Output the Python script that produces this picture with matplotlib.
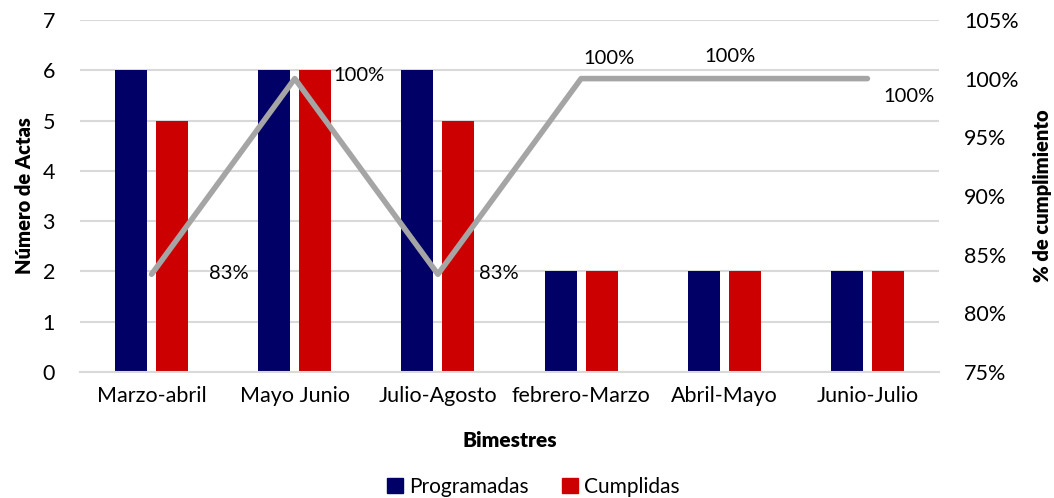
import matplotlib
matplotlib.use("Agg")
import matplotlib.pyplot as plt
import numpy as np
from matplotlib.ticker import FuncFormatter
from matplotlib.patches import Patch

plt.rcParams['font.family'] = ['Lato', 'DejaVu Sans']

categories = ["Marzo-abril", "Mayo Junio", "Julio-Agosto", "febrero-Marzo", "Abril-Mayo", "Junio-Julio"]
programadas = [6, 6, 6, 2, 2, 2]
cumplidas = [5, 6, 5, 2, 2, 2]
cumplimiento = [83.33, 100, 83.33, 100, 100, 100]
pct_labels = ["83%", "100%", "83%", "100%", "100%", "100%"]

navy = "#000066"
red = "#CC0000"
gray = "#A5A5A5"
grid = "#D9D9D9"

fig = plt.figure(figsize=(10.54, 4.98), dpi=100)
ax = fig.add_axes([0.0759, 0.253, 0.815, 0.707])
x = np.arange(len(categories))
w = 0.224
ax.bar(x - 0.143, programadas, w, color=navy, zorder=2)
ax.bar(x + 0.143, cumplidas, w, color=red, zorder=2)
ax.set_xlim(-0.5, len(categories) - 0.5)
ax.set_ylim(0, 7)
ax.set_yticks(range(0, 8))
ax.yaxis.grid(True, color=grid, linewidth=1.5, zorder=0)
ax.set_axisbelow(True)
for s in ["top", "left", "right"]:
    ax.spines[s].set_visible(False)
ax.spines["bottom"].set_color(grid)
ax.spines["bottom"].set_linewidth(1.5)
ax.tick_params(length=0, labelsize=15.5, colors="black")
ax.tick_params(axis="y", pad=18)
ax.tick_params(axis="x", pad=10)
ax.set_xticks(x)
ax.set_xticklabels(categories)
ax.set_ylabel("Número de Actas", fontsize=14.5, fontweight="heavy", labelpad=6)
ax.set_xlabel("Bimestres", fontsize=15, fontweight="heavy", labelpad=18)

ax2 = ax.twinx()
ax2.set_ylim(75, 105)
ax2.set_yticks(range(75, 106, 5))
ax2.yaxis.set_major_formatter(FuncFormatter(lambda v, p: f"{int(v)}%"))
for s in ["top", "left", "right", "bottom"]:
    ax2.spines[s].set_visible(False)
ax2.tick_params(length=0, labelsize=15.5, pad=18)
ax2.plot(x, cumplimiento, color=gray, linewidth=4, solid_capstyle="round", zorder=3)
ax2.set_ylabel("% de cumplimiento", fontsize=14.5, fontweight="heavy", labelpad=10)

offsets = [(77, 1), (64, 3), (61, 1), (28, 20), (6, 22), (42, -18)]
for xi, yi, lab, (dx, dy) in zip(x, cumplimiento, pct_labels, offsets):
    ax2.annotate(lab, (xi, yi), xytext=(dx * 0.72, dy * 0.72), textcoords="offset points",
                 ha="center", va="center", fontsize=14.5)

handles = [Patch(color=navy, label="Programadas"), Patch(color=red, label="Cumplidas")]
fig.legend(handles=handles, loc="lower center", bbox_to_anchor=(0.506, -0.035), ncol=2,
           frameon=False, fontsize=15, handlelength=0.75, handleheight=0.75,
           handletextpad=0.3, columnspacing=1.6)

fig.savefig("out.png", dpi=100)
